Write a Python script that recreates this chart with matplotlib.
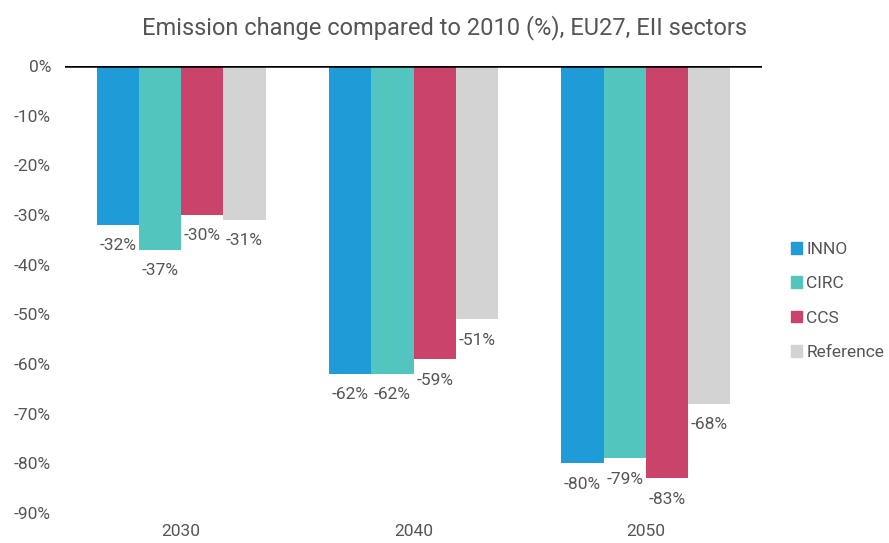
import matplotlib
matplotlib.use("Agg")
import matplotlib.pyplot as plt
import numpy as np
from matplotlib.patches import Patch

plt.rcParams['font.family'] = ['Roboto', 'DejaVu Sans']

years = ["2030", "2040", "2050"]
series = ["INNO", "CIRC", "CCS", "Reference"]
values = {
    "INNO": [-32, -62, -80],
    "CIRC": [-37, -62, -79],
    "CCS": [-30, -59, -83],
    "Reference": [-31, -51, -68],
}
colors = ["#1F9BD7", "#52C5BF", "#C9436B", "#D3D3D3"]
yticks = [0, -10, -20, -30, -40, -50, -60, -70, -80, -90]

fig = plt.figure(figsize=(8.89, 5.43), dpi=100)
ax = fig.add_axes([65/889, 1-513/543, (762-65)/889, (513-66)/543])

x = np.arange(len(years))
w = 0.182
txt = "#555555"
fs = 12.5
for i, s in enumerate(series):
    pos = x + (i - 1.5) * w
    ax.bar(pos, values[s], width=w, color=colors[i], zorder=2)
    for p, v in zip(pos, values[s]):
        ax.annotate(f"{v}%", (p, v), xytext=(0, -21 * 0.72), textcoords="offset points",
                    ha="center", va="center", fontsize=fs, color=txt)

ax.axhline(0, color="black", lw=1.8, zorder=3)
ax.set_xlim(-0.5, 2.5)
ax.set_ylim(-90, 0)
ax.set_yticks(yticks)
ax.set_yticklabels([f"{t}%" for t in yticks])
ax.set_xticks(x)
ax.set_xticklabels(years)
ax.tick_params(axis="both", length=0, labelsize=fs, colors=txt)
ax.tick_params(axis="y", pad=10)
ax.tick_params(axis="x", pad=8)
for sp in ax.spines.values():
    sp.set_visible(False)

fig.text(0.5, 1-28/543, "Emission change compared to 2010 (%), EU27, EII sectors",
         ha="center", va="center", fontsize=17, color="#555555")

handles = [Patch(color=c, label=s) for c, s in zip(colors, series)]
fig.legend(handles=handles, loc="center left", bbox_to_anchor=(782/889, 1-301/543),
           frameon=False, fontsize=fs, handlelength=0.65, handleheight=0.65,
           handletextpad=0.25, labelspacing=1.12, labelcolor=txt, borderpad=0)

fig.savefig("out.png", dpi=100)
